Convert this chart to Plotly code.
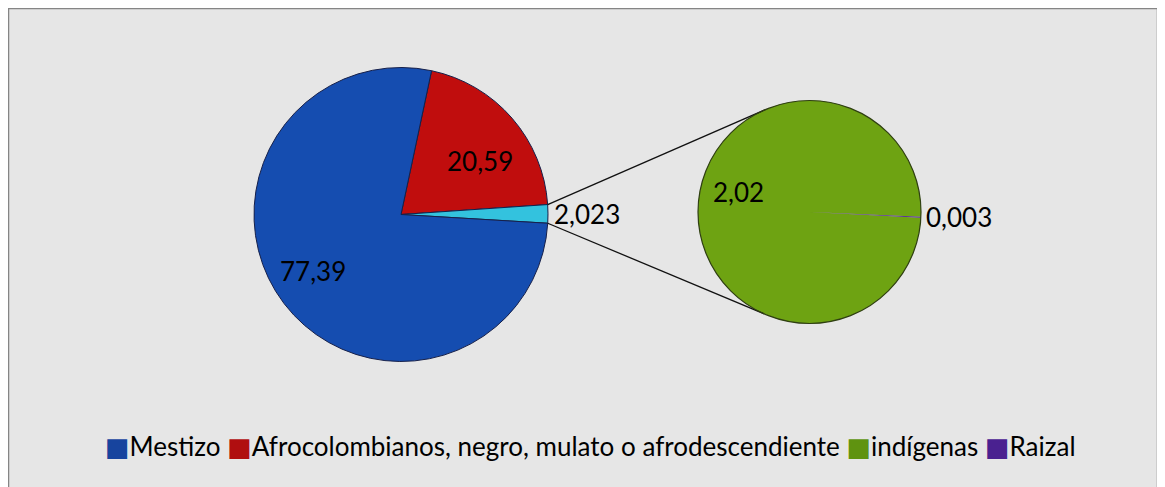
import math
import plotly.graph_objects as go

# ---------------- data ----------------
main_labels = ["Afrocolombianos, negro, mulato o afrodescendiente", "Otros", "Mestizo"]
main_values = [20.59, 2.023, 77.39]
sub_labels = ["indígenas", "Raizal"]
sub_values = [2.02, 0.003]
legend_labels = ["Mestizo", "Afrocolombianos, negro, mulato o afrodescendiente", "indígenas", "Raizal"]

# ---------------- style ----------------
OFF = 8                      # default page margin of the html body
W, H = 1165 - OFF, 487 - OFF
FONT = "Lato, Calibri, Carlito, sans-serif"
colors_main = ["#c00d0d", "#33c2de", "#154db0"]
colors_sub = ["#6ea312", "#4a2188"]
legend_colors = ["#17449e", "#b00e10", "#5f9310", "#4a2190"]

MAIN_C = (401 - OFF, 214.5 - OFF)
MAIN_R = 147
SUB_C = (809.5 - OFF, 212 - OFF)
SUB_R = 111.5
MAIN_ROT = 12
SUB_ROT = 93
CONNECT_ANGLES = (-23.5, 203.9)
# label placement: (angle clockwise from 12 o'clock, radius fraction, xanchor)
MAIN_LABEL_POS = [(55.6, 0.65, "center"), (None, 1.03, "left"), (237.5, 0.71, "center")]
SUB_LABEL_POS = [(285.6, 0.665, "center"), (None, 1.03, "left")]


def fmt(v):
    return str(v).replace(".", ",")


def dom(c, r):
    return dict(x=[(c[0] - r) / W, (c[0] + r) / W],
                y=[1 - (c[1] + r) / H, 1 - (c[1] - r) / H])


def pt(c, r, ang):
    a = math.radians(ang)
    return ((c[0] + r * math.sin(a)) / W, 1 - (c[1] - r * math.cos(a)) / H)


def mid_angles(values, rot):
    tot = sum(values)
    out, cur = [], rot
    for v in values:
        span = 360 * v / tot
        out.append(cur + span / 2)
        cur += span
    return out


fig = go.Figure()

fig.add_trace(go.Pie(
    labels=main_labels, values=main_values,
    hovertemplate="%{label}: %{value}<extra></extra>",
    sort=False, direction="clockwise", rotation=MAIN_ROT, domain=dom(MAIN_C, MAIN_R),
    textinfo="none", marker=dict(colors=colors_main, line=dict(color="#16204a", width=1)),
    showlegend=False))

fig.add_trace(go.Pie(
    labels=sub_labels, values=sub_values,
    hovertemplate="%{label}: %{value}<extra></extra>",
    sort=False, direction="clockwise", rotation=SUB_ROT, domain=dom(SUB_C, SUB_R),
    textinfo="none", marker=dict(colors=colors_sub, line=dict(width=0)),
    showlegend=False))

# data labels
annotations = []
for values, labpos, c, r, rot in [(main_values, MAIN_LABEL_POS, MAIN_C, MAIN_R, MAIN_ROT),
                                  (sub_values, SUB_LABEL_POS, SUB_C, SUB_R, SUB_ROT)]:
    mids = mid_angles(values, rot)
    for v, (ang, frac, anchor), m in zip(values, labpos, mids):
        a = m if ang is None else ang
        x, y = pt(c, r * frac, a)
        annotations.append(dict(x=x, y=y, xref="paper", yref="paper", text=fmt(v),
                                showarrow=False, xanchor=anchor, yanchor="middle",
                                font=dict(family=FONT, size=26, color="black")))

# legend (coloured square glyph + label for each category, as one text line)
legend_text = " ".join(
    '<span style="color:%s;font-family:DejaVu Sans">\u25A0</span>%s' % (col, lab)
    for lab, col in zip(legend_labels, legend_colors))
annotations.append(dict(x=(590 - OFF) / W, y=1 - (446 - OFF) / H, xref="paper", yref="paper",
                        text=legend_text, showarrow=False, xanchor="center", yanchor="middle",
                        font=dict(family=FONT, size=26, color="black")))

# connector lines (from the "Otros" slice edges to the secondary pie)
tot = sum(main_values)
a1 = MAIN_ROT + 360 * main_values[0] / tot
a2 = a1 + 360 * main_values[1] / tot
p1 = pt(MAIN_C, MAIN_R, a1)
p2 = pt(MAIN_C, MAIN_R, a2)
q1 = pt(SUB_C, SUB_R, CONNECT_ANGLES[0])
q2 = pt(SUB_C, SUB_R, CONNECT_ANGLES[1])

shapes = [
    dict(type="rect", xref="paper", yref="paper", x0=0, x1=(1158 - OFF) / W, y0=-0.05, y1=1,
         fillcolor="#e6e6e6", line=dict(color="#858585", width=2.5), layer="below"),
    dict(type="line", xref="paper", yref="paper", x0=p1[0], y0=p1[1], x1=q1[0], y1=q1[1],
         line=dict(color="#111111", width=1.3)),
    dict(type="line", xref="paper", yref="paper", x0=p2[0], y0=p2[1], x1=q2[0], y1=q2[1],
         line=dict(color="#111111", width=1.3)),
    dict(type="circle", xref="paper", yref="paper",
         x0=(SUB_C[0] - SUB_R) / W, x1=(SUB_C[0] + SUB_R) / W,
         y0=1 - (SUB_C[1] + SUB_R) / H, y1=1 - (SUB_C[1] - SUB_R) / H,
         line=dict(color="#2f3f12", width=1.2)),
]

fig.update_layout(
    width=W, height=H, margin=dict(l=0, r=0, t=0, b=0),
    paper_bgcolor="white", plot_bgcolor="rgba(0,0,0,0)",
    shapes=shapes, annotations=annotations, showlegend=False,
)

fig.write_html("out.html")
